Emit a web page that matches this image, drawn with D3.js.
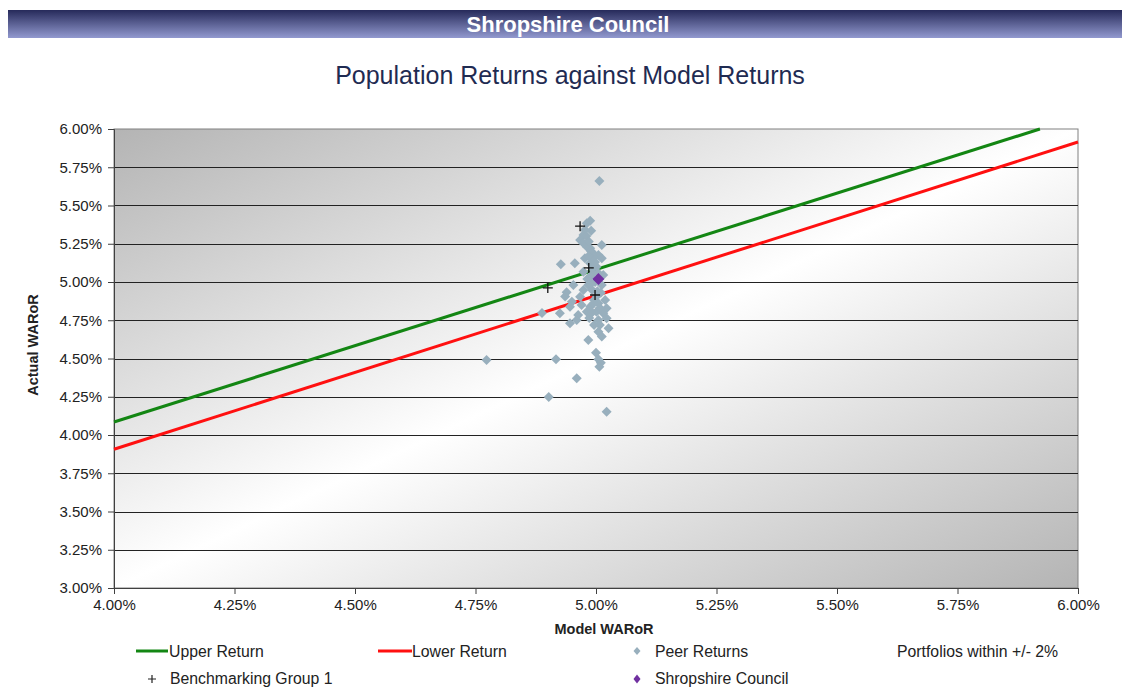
<!DOCTYPE html>
<html>
<head>
<meta charset="utf-8">
<script src="https://cdn.jsdelivr.net/npm/d3@7"></script>
<style>
  body { margin: 0; background: #fff; }
  svg { display: block; font-family: Arial, "Liberation Sans", sans-serif; }
</style>
</head>
<body>
<svg id="chart"></svg>
<script>
// values in percent
var xTicks = [4.00, 4.25, 4.50, 4.75, 5.00, 5.25, 5.50, 5.75, 6.00];
var yTicks = [3.00, 3.25, 3.50, 3.75, 4.00, 4.25, 4.50, 4.75, 5.00, 5.25, 5.50, 5.75, 6.00];

var upperReturn = [[4.00, 4.085], [5.921, 6.00]];
var lowerReturn = [[4.00, 3.907], [6.00, 5.915]];

var peerReturns = [
  [5.007, 5.660], [4.988, 5.401], [4.981, 5.384], [4.977, 5.340], [4.974, 5.307],
  [4.967, 5.275], [4.974, 5.253], [4.981, 5.231], [4.988, 5.220], [5.012, 5.242],
  [4.994, 5.188], [5.005, 5.176], [5.012, 5.155], [4.977, 5.155], [4.956, 5.122],
  [4.927, 5.116], [4.988, 5.122], [5.001, 5.100], [4.974, 5.067], [4.994, 5.057],
  [5.015, 5.046], [4.988, 5.035], [4.953, 4.980], [4.939, 4.933], [4.984, 4.980],
  [5.012, 4.980], [4.974, 4.948], [4.967, 4.904], [5.019, 4.882], [4.950, 4.871],
  [4.925, 4.795], [4.888, 4.797], [4.970, 4.850], [4.988, 4.839], [5.005, 4.861],
  [5.022, 4.828], [4.963, 4.784], [4.981, 4.806], [5.001, 4.806], [5.015, 4.795],
  [4.960, 4.752], [5.005, 4.752], [5.022, 4.763], [4.946, 4.730], [5.008, 4.719],
  [5.005, 4.675], [5.026, 4.697], [5.012, 4.643], [4.984, 4.621], [5.000, 4.538],
  [5.005, 4.495], [5.010, 4.473], [5.007, 4.446], [4.917, 4.495], [4.960, 4.371],
  [4.902, 4.248], [5.022, 4.152], [4.773, 4.490], [4.936, 4.905], [4.946, 4.839],
  [4.998, 5.131], [4.992, 4.948], [5.002, 4.908], [4.996, 4.882], [4.986, 4.765],
  [4.996, 4.719], [4.990, 5.200], [4.995, 5.160], [4.992, 5.090], [5.004, 5.060],
  [4.998, 5.000], [4.990, 4.990], [5.003, 4.940], [4.995, 4.860], [5.010, 4.930],
  [4.985, 5.170], [4.980, 5.300], [4.985, 5.265], [4.990, 5.335], [4.982, 5.020],
  [5.008, 4.830], [4.992, 4.800]
];

var benchmarkingGroup = [[4.967, 5.365], [4.985, 5.092], [4.900, 4.961], [4.998, 4.915]];
var shropshire = [[5.005, 5.020]];

var W = 1122, H = 688;
var margin = { left: 114, right: 44, top: 129, bottom: 100 };

var svg = d3.select('#chart').attr('width', W).attr('height', H);
var defs = svg.append('defs');

var hg = defs.append('linearGradient').attr('id', 'hdr').attr('x1', 0).attr('y1', 0).attr('x2', 0).attr('y2', 1);
hg.append('stop').attr('offset', 0).attr('stop-color', '#262a5a');
hg.append('stop').attr('offset', 1).attr('stop-color', '#9299cf');

var pg = defs.append('linearGradient').attr('id', 'plotbg').attr('x1', 0).attr('y1', 0).attr('x2', 1).attr('y2', 1);
pg.append('stop').attr('offset', 0).attr('stop-color', '#b4b4b4');
pg.append('stop').attr('offset', 0.5).attr('stop-color', '#ffffff');
pg.append('stop').attr('offset', 1).attr('stop-color', '#b4b4b4');

// header bar
svg.append('rect').attr('x', 8).attr('y', 10).attr('width', W - 8).attr('height', 28).attr('fill', 'url(#hdr)');
svg.append('text').attr('x', 568).attr('y', 32).attr('text-anchor', 'middle')
  .attr('fill', '#fff').attr('font-weight', 'bold').attr('font-size', 22).text('Shropshire Council');

svg.append('text').attr('x', 570).attr('y', 84).attr('text-anchor', 'middle')
  .attr('fill', '#1f2b52').attr('font-size', 25).text('Population Returns against Model Returns');

var x = d3.scaleLinear().domain([4, 6]).range([margin.left, W - margin.right]);
var y = d3.scaleLinear().domain([3, 6]).range([H - margin.bottom, margin.top]);

var pw = x(6) - x(4), ph = y(3) - y(6);

svg.append('rect').attr('x', x(4)).attr('y', y(6)).attr('width', pw).attr('height', ph)
  .attr('fill', 'url(#plotbg)').attr('stroke', '#808080');

// gridlines
svg.append('g').selectAll('line').data(yTicks.slice(1, -1)).enter().append('line')
  .attr('x1', x(4)).attr('x2', x(6))
  .attr('y1', function(d){ return Math.round(y(d)) + 0.5; })
  .attr('y2', function(d){ return Math.round(y(d)) + 0.5; })
  .attr('stroke', '#222').attr('stroke-width', 1);

function pct(d){ return d.toFixed(2) + '%'; }

var yAxis = svg.append('g').attr('transform', 'translate(' + x(4) + ',0)')
  .call(d3.axisLeft(y).tickValues(yTicks).tickFormat(pct).tickSize(6).tickPadding(6));
var xAxis = svg.append('g').attr('transform', 'translate(0,' + y(3) + ')')
  .call(d3.axisBottom(x).tickValues(xTicks).tickFormat(pct).tickSize(6).tickPadding(5));

[yAxis, xAxis].forEach(function(a){
  a.select('.domain').attr('stroke', '#404040');
  a.selectAll('.tick line').attr('stroke', '#404040');
  a.selectAll('text').attr('font-size', 15).attr('fill', '#222').attr('font-family', 'Arial, "Liberation Sans", sans-serif');
});

svg.append('text').attr('transform', 'translate(38,345) rotate(-90)')
  .attr('text-anchor', 'middle').attr('font-weight', 'bold').attr('font-size', 14.5).attr('fill', '#222')
  .text('Actual WARoR');
svg.append('text').attr('x', 604).attr('y', 634).attr('text-anchor', 'middle')
  .attr('font-weight', 'bold').attr('font-size', 14.5).attr('fill', '#222').text('Model WARoR');

var line = d3.line()
  .x(function(d){ return x(d[0]); })
  .y(function(d){ return y(d[1]); });

svg.append('path').datum(upperReturn).attr('d', line).attr('fill', 'none').attr('stroke', '#138613').attr('stroke-width', 3);
svg.append('path').datum(lowerReturn).attr('d', line).attr('fill', 'none').attr('stroke', '#ff1010').attr('stroke-width', 3);

function translate(px, py){
  return 'translate(' + px + ',' + py + ')';
}

var diamond = 'M0,-5L5,0L0,5L-5,0Z';
var bigDiamond = 'M0,-6L6,0L0,6L-6,0Z';
var cross = 'M-5,0H5M0,-5V5';

svg.append('g').selectAll('path').data(peerReturns).enter().append('path')
  .attr('d', diamond).attr('fill', '#98afbd')
  .attr('transform', function(d){ return translate(x(d[0]), y(d[1])); });

svg.append('g').selectAll('path').data(benchmarkingGroup).enter().append('path')
  .attr('d', cross).attr('fill', 'none').attr('stroke', '#111').attr('stroke-width', 1.3)
  .attr('transform', function(d){ return translate(x(d[0]), y(d[1])); });

svg.append('g').selectAll('path').data(shropshire).enter().append('path')
  .attr('d', bigDiamond).attr('fill', '#7030a0')
  .attr('transform', function(d){ return translate(x(d[0]), y(d[1])); });

// legend
var lg = svg.append('g').attr('font-size', 15.8).attr('fill', '#222');
lg.append('line').attr('x1', 136).attr('x2', 168).attr('y1', 651).attr('y2', 651).attr('stroke', '#138613').attr('stroke-width', 3);
lg.append('text').attr('x', 169).attr('y', 657).text('Upper Return');
lg.append('line').attr('x1', 378).attr('x2', 412).attr('y1', 651).attr('y2', 651).attr('stroke', '#ff1010').attr('stroke-width', 3);
lg.append('text').attr('x', 412).attr('y', 657).text('Lower Return');
lg.append('path').attr('d', 'M0,-4L3.5,0L0,4L-3.5,0Z').attr('fill', '#98afbd').attr('transform', translate(637, 651));
lg.append('text').attr('x', 655).attr('y', 657).text('Peer Returns');
lg.append('text').attr('x', 897).attr('y', 657).text('Portfolios within +/- 2%');
lg.append('path').attr('d', 'M-4,0H4M0,-4V4').attr('stroke', '#222').attr('stroke-width', 1.2).attr('transform', translate(152, 679));
lg.append('text').attr('x', 170).attr('y', 684).text('Benchmarking Group 1');
lg.append('path').attr('d', 'M0,-4.5L3.5,0L0,4.5L-3.5,0Z').attr('fill', '#7030a0').attr('transform', translate(637, 679));
lg.append('text').attr('x', 655).attr('y', 684).text('Shropshire Council');
</script>
</body>
</html>
